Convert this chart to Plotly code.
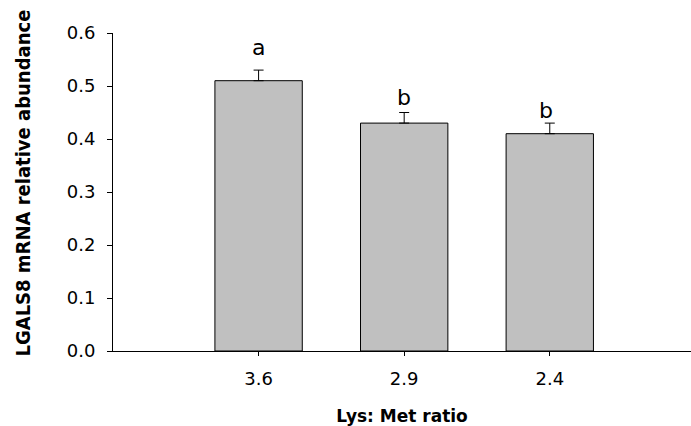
import plotly.graph_objects as go

categories = ["3.6", "2.9", "2.4"]
values = [0.51, 0.43, 0.41]
errors = [0.02, 0.02, 0.02]
letters = ["a", "b", "b"]
letter_heights = [0.557, 0.462, 0.437]   # baseline height of each letter
y_ticks = [0.0, 0.1, 0.2, 0.3, 0.4, 0.5, 0.6]
y_tick_labels = ["0.0", "0.1", "0.2", "0.3", "0.4", "0.5", "0.6"]

fig = go.Figure()
fig.add_trace(go.Bar(
    x=list(range(len(categories))),
    y=values,
    width=0.6,
    marker=dict(color="#c0c0c0", line=dict(color="black", width=1)),
    error_y=dict(type="data", array=errors, arrayminus=[0] * len(errors),
                 symmetric=False, color="black", thickness=1, width=5),
    showlegend=False,
))

letter_xshift = [0, 0, -4]
for i, (h, t) in enumerate(zip(letter_heights, letters)):
    fig.add_annotation(x=i, y=h, text=t, showarrow=False,
                       yanchor="bottom", yshift=-6, xshift=letter_xshift[i],
                       font=dict(family="DejaVu Sans", size=22, color="black"))

# y-axis title
fig.add_annotation(xref="paper", yref="paper", x=-0.1557, y=0.5267,
                   text="<b>LGALS8 mRNA relative abundance</b>", textangle=-90,
                   showarrow=False, xanchor="center", yanchor="middle",
                   font=dict(family="DejaVu Sans Condensed, sans-serif",
                             size=20, color="black"))

fig.update_layout(
    width=691, height=426,
    margin=dict(l=113, r=0, t=33, b=75, autoexpand=False),
    plot_bgcolor="white", paper_bgcolor="white",
    bargap=0.4,
)
fig.update_xaxes(
    range=[-1.0, 2.97],
    tickmode="array", tickvals=list(range(len(categories))), ticktext=categories,
    ticks="outside", ticklen=4, tickcolor="black", tickwidth=1,
    ticklabelstandoff=7,
    showline=True, linecolor="black", linewidth=1,
    showgrid=False, zeroline=False,
    tickfont=dict(family="DejaVu Sans", size=18, color="black"),
    title=dict(text="<b>Lys: Met ratio</b>", standoff=27,
               font=dict(family="DejaVu Sans", size=17, color="black")),
    automargin=False,
)
fig.update_yaxes(
    range=[0, 0.6],
    tickmode="array", tickvals=y_ticks, ticktext=y_tick_labels,
    ticks="outside", ticklen=5, tickcolor="black", tickwidth=1,
    ticklabelstandoff=8,
    showline=True, linecolor="black", linewidth=1,
    showgrid=False, zeroline=False,
    tickfont=dict(family="DejaVu Sans", size=18, color="black"),
    automargin=False,
)

fig.write_html("out.html", config={"displayModeBar": False},
               post_script="document.body.style.margin='0';document.body.style.overflow='hidden';")
